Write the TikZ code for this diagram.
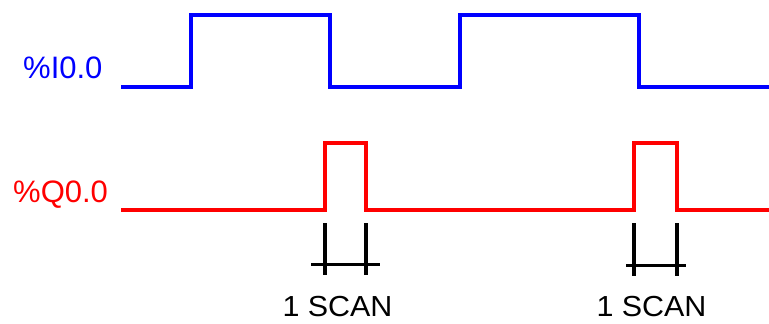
\documentclass[tikz,border=0pt]{standalone}
\usepackage{fontspec}
\setmainfont{Liberation Sans}
\begin{document}
\begin{tikzpicture}[x=1pt,y=-1pt,
  sig/.style={line width=4pt,line join=miter},
  vtick/.style={line width=4.3pt,black},
  htick/.style={line width=3pt,black},
  lbl/.style={inner sep=0pt,anchor=base west,font=\fontsize{31}{31}\selectfont},
  scan/.style={inner sep=0pt,anchor=base,font=\fontsize{29}{29}\selectfont,xscale=1.05}]
\useasboundingbox (0,0) rectangle (769,324);
% labels
\node[lbl,text={rgb,255:red,0;green,0;blue,255}] (lI) at (23,78) {\%I0.0};
\node[lbl,text={rgb,255:red,255;green,0;blue,0}] (lQ) at (13,202) {\%Q0.0};
% input waveform
\draw[sig,color={rgb,255:red,0;green,0;blue,255}] (121,87) -- (191,87) -- (191,15) -- (330,15) -- (330,87) -- (460,87) -- (460,15) -- (639,15) -- (639,87) -- (769,87);
% output waveform
\draw[sig,color={rgb,255:red,255;green,0;blue,0}] (121,210) -- (325,210) -- (325,143) -- (366,143) -- (366,210) -- (634,210) -- (634,143) -- (677,143) -- (677,210) -- (769,210);
% scan markers
\draw[vtick] (325,223) -- (325,275);
\draw[vtick] (366,223) -- (366,275);
\draw[htick] (311,264.5) -- (380,264.5);
\draw[vtick] (634,223) -- (634,276);
\draw[vtick] (677,223) -- (677,276);
\draw[htick] (626,265) -- (686,265);
\node[scan] (s1) at (337.5,316) {1 SCAN};
\node[scan] (s2) at (651.5,316) {1 SCAN};
\end{tikzpicture}
\end{document}
